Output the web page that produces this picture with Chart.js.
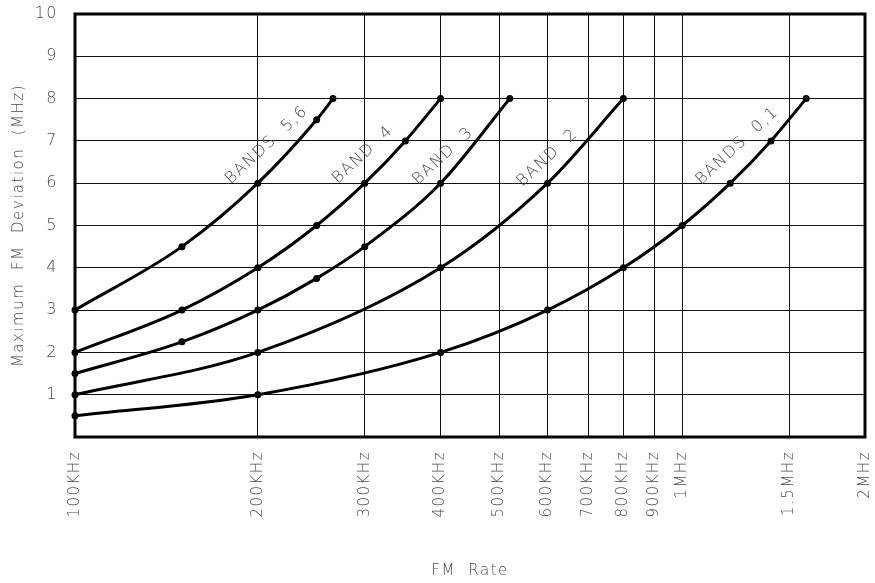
<!DOCTYPE html>
<html>
<head>
<meta charset="utf-8">
<script src="https://cdn.jsdelivr.net/npm/chart.js@4/dist/chart.umd.min.js"></script>
<style>
  html, body { margin: 0; padding: 0; background: #fff; }
  #wrap { width: 875px; height: 583px; }
</style>
</head>
<body>
<div id="wrap"><canvas id="c" width="875" height="583"></canvas></div>
<script>
// ---- Data (FM rate in kHz, max deviation in MHz) ----
const band01Rate = [100, 200, 400, 600, 800, 1000, 1200, 1400, 1600];
const band01Dev  = [0.5, 1, 2, 3, 4, 5, 6, 7, 8];

const band2Rate = [100, 200, 400, 600, 800];
const band2Dev  = [1, 2, 4, 6, 8];

const band3Rate = [100, 150, 200, 250, 300, 400, 520];
const band3Dev  = [1.5, 2.25, 3, 3.75, 4.5, 6, 8];

const band4Rate = [100, 150, 200, 250, 300, 350, 400];
const band4Dev  = [2, 3, 4, 5, 6, 7, 8];

const band56Rate = [100, 150, 200, 250, 266];
const band56Dev  = [3, 4.5, 6, 7.5, 8];

// x axis ticks (kHz) and their labels
const xTickValues = [100, 200, 300, 400, 500, 600, 700, 800, 900, 1000, 1500, 2000];
const xTickLabels = ['100KHz', '200KHz', '300KHz', '400KHz', '500KHz', '600KHz', '700KHz', '800KHz', '900KHz', '1MHz', '1.5MHz', '2MHz'];
const yTickValues = [1, 2, 3, 4, 5, 6, 7, 8, 9, 10];

// curve labels: text and anchor in data coordinates
const bandLabels = ['BANDS  5,6', 'BAND  4', 'BAND  3', 'BAND  2', 'BANDS  0,1'];
const bandLabelRate = [207, 298, 404, 600, 1232];
const bandLabelDev  = [6.9, 6.67, 6.64, 6.6, 6.88];

function pts(xs, ys) { return xs.map((x, i) => ({ x: x, y: ys[i] })); }

const TEXT_COLOR = '#4a4a4a';
const FONT_FAMILY = "'DejaVu Sans', 'Liberation Sans', sans-serif";

const series = [
  pts(band01Rate, band01Dev),
  pts(band2Rate, band2Dev),
  pts(band3Rate, band3Dev),
  pts(band4Rate, band4Dev),
  pts(band56Rate, band56Dev)
];

const datasets = series.map(d => ({
  data: d,
  borderColor: '#000',
  backgroundColor: '#000',
  borderWidth: 3,
  pointRadius: 3.5,
  pointHoverRadius: 3.5,
  pointBackgroundColor: '#000',
  pointBorderWidth: 0,
  cubicInterpolationMode: 'monotone',
  clip: false,
  fill: false
}));

const frame = {
  id: 'frame',
  beforeDraw(chart) {
    chart.ctx.letterSpacing = '1.5px';
  },
  beforeDatasetsDraw(chart) {
    const a = chart.chartArea, ctx = chart.ctx;
    ctx.save();
    ctx.strokeStyle = '#000';
    ctx.lineWidth = 3;
    ctx.strokeRect(a.left, a.top, a.right - a.left, a.bottom - a.top);
    ctx.restore();
  },
  afterDatasetsDraw(chart) {
    const ctx = chart.ctx, xs = chart.scales.x, ys = chart.scales.y;
    ctx.save();
    ctx.fillStyle = TEXT_COLOR;
    ctx.font = "200 16px " + FONT_FAMILY;
    ctx.letterSpacing = '1.5px';
    ctx.textAlign = 'center';
    ctx.textBaseline = 'middle';
    bandLabels.forEach((t, i) => {
      const px = xs.getPixelForValue(bandLabelRate[i]);
      const py = ys.getPixelForValue(bandLabelDev[i]);
      ctx.save();
      ctx.translate(px, py);
      ctx.rotate(-43 * Math.PI / 180);
      ctx.fillText(t, 0, 0);
      ctx.restore();
    });
    ctx.restore();
  }
};

new Chart(document.getElementById('c'), {
  type: 'line',
  data: { datasets: datasets },
  options: {
    responsive: false,
    animation: false,
    events: [],
    layout: { padding: { left: 0, right: 10, top: 14, bottom: 0 } },
    plugins: { legend: { display: false }, tooltip: { enabled: false } },
    scales: {
      x: {
        type: 'logarithmic',
        min: 100,
        max: 2000,
        afterBuildTicks(scale) { scale.ticks = xTickValues.map(v => ({ value: v })); },
        afterFit(scale) {
          scale.height = 146;
          scale.paddingLeft = 0; scale.paddingRight = 0;
          scale.paddingTop = 0; scale.paddingBottom = 0;
        },
        ticks: {
          autoSkip: false,
          minRotation: 90,
          maxRotation: 90,
          padding: 14,
          color: TEXT_COLOR,
          font: { family: FONT_FAMILY, size: 15, weight: '200' },
          callback(v) { const i = xTickValues.indexOf(v); return i >= 0 ? xTickLabels[i] : ''; }
        },
        grid: { color: '#111', lineWidth: 1, drawTicks: false },
        border: { display: false },
        title: {
          display: true,
          text: 'FM  Rate',
          color: TEXT_COLOR,
          font: { family: FONT_FAMILY, size: 15, weight: '200' },
          padding: { top: 0, bottom: 3 }
        }
      },
      y: {
        min: 0,
        max: 10,
        afterBuildTicks(scale) { scale.ticks = [0].concat(yTickValues).map(v => ({ value: v })); },
        afterFit(scale) {
          scale.width = 75;
          scale.paddingLeft = 0; scale.paddingRight = 0;
          scale.paddingTop = 0; scale.paddingBottom = 0;
        },
        ticks: {
          padding: 17,
          color: TEXT_COLOR,
          font: { family: FONT_FAMILY, size: 16, weight: '200' },
          callback(v) { return yTickValues.indexOf(v) >= 0 ? String(v) : ''; }
        },
        grid: { color: '#111', lineWidth: 1, drawTicks: false },
        border: { display: false },
        title: {
          display: true,
          text: 'Maximum  FM  Deviation  (MHz)',
          color: TEXT_COLOR,
          font: { family: FONT_FAMILY, size: 15, weight: '200' },
          padding: { top: 10, bottom: 0 }
        }
      }
    }
  },
  plugins: [frame]
});
</script>
</body>
</html>
